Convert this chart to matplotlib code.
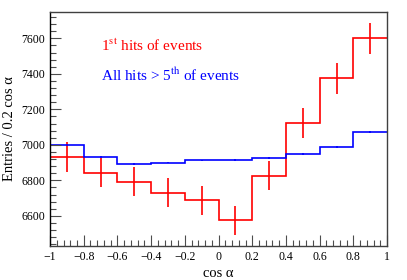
#!/usr/bin/env python3
import matplotlib
matplotlib.use("Agg")
import matplotlib.pyplot as plt
import numpy as np
from matplotlib.ticker import MultipleLocator, FuncFormatter

BIN_EDGES = [-1.0, -0.8, -0.6, -0.4, -0.2, 0.0, 0.2, 0.4, 0.6, 0.8, 1.0]
FIRST_HITS = [6932, 6844, 6792, 6731, 6688, 6574, 6827, 7122, 7374, 7600]
FIRST_ERR = [83, 83, 82, 82, 82, 81, 83, 84, 86, 87]
ALL_HITS = [6998, 6932, 6891, 6900, 6912, 6914, 6925, 6947, 6990, 7071]
ALL_ERR = [5, 5, 5, 5, 5, 5, 5, 5, 5, 5]

Y_MIN, Y_MAX = 6430, 7750

plt.rcParams.update(
    {
        "font.family": "serif",
        "font.serif": ["Liberation Serif"],
        "mathtext.fontset": "stix",
        "axes.linewidth": 1.0,
    }
)


def tick_fmt(v, pos):
    v = round(v, 6)
    if v == 0:
        return "0"
    return f"{v:g}".replace("-", "\u2212")


fig = plt.figure(figsize=(4.07, 2.80), dpi=100)
ax = fig.add_axes([0.1229, 0.1214, 0.8281, 0.8366])

edges = np.array(BIN_EDGES)
centers = 0.5 * (edges[:-1] + edges[1:])

for values, errors, color in [(FIRST_HITS, FIRST_ERR, "#ff0000"),
                              (ALL_HITS, ALL_ERR, "#0000ff")]:
    ax.stairs(values, edges, baseline=None, color=color, linewidth=1.2)
    # histogram outline goes down to the frame at the left edge only
    ax.vlines(edges[0], Y_MIN, values[0], color=color, linewidth=1.2)
    ax.errorbar(centers, values, yerr=errors, fmt="none", ecolor=color,
                elinewidth=1.2, capsize=0)

for side in ["top", "right", "bottom"]:
    ax.spines[side].set_zorder(5)
    ax.spines[side].set_color("0.25")

ax.set_xlim(-1, 1)
ax.set_ylim(Y_MIN, Y_MAX)

ax.xaxis.set_major_locator(MultipleLocator(0.2))
ax.xaxis.set_minor_locator(MultipleLocator(0.04))
ax.yaxis.set_major_locator(MultipleLocator(200))
ax.yaxis.set_minor_locator(MultipleLocator(40))
ax.xaxis.set_major_formatter(FuncFormatter(tick_fmt))
ax.tick_params(which="both", direction="in", top=False, right=False, labelsize=8.5,
               color="0.3")
ax.tick_params(which="major", length=8, width=0.8)
ax.tick_params(which="minor", length=4, width=0.8)

ax.set_xlabel("cos α", fontsize=10.5, labelpad=3)
ax.set_ylabel("Entries / 0.2 cos α", fontsize=10.5, labelpad=4)

ax.text(-0.70, 7560, r"1$^{\rm st}$ hits of events", color="#ff0000", fontsize=11,
        va="center", ha="left")
ax.text(-0.70, 7390, r"All hits > 5$^{\rm th}$ of events", color="#0000ff", fontsize=11,
        va="center", ha="left")

fig.savefig("out.png", dpi=100)
